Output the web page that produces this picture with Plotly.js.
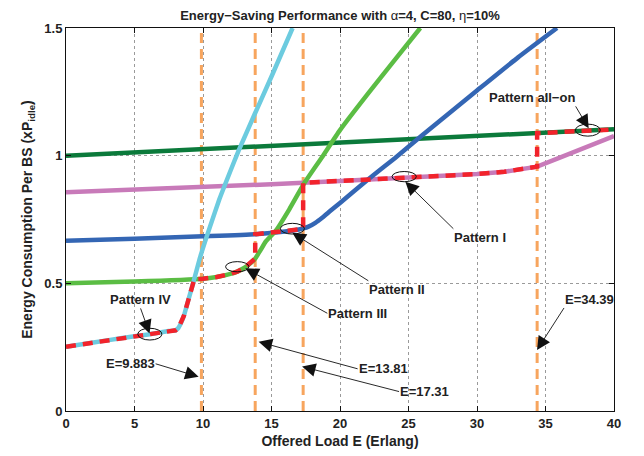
<!DOCTYPE html>
<html><head><meta charset="utf-8">
<script src="https://cdn.plot.ly/plotly-3.0.1.min.js"></script>
<style>html,body{margin:0;padding:0;background:#fff}#chart{width:644px;height:456px}</style>
</head><body><div id="chart"></div>
<script>
// ---- data ----
const xTickVals = [0, 5, 10, 15, 20, 25, 30, 35, 40];
const yTickVals = [0, 0.5, 1, 1.5];
const yTickText = ['0', '0.5', '1', '1.5'];

// Pattern all-on (dark green)
const allOnX = [0, 10, 20, 30, 40];
const allOnY = [1.0, 1.026, 1.052, 1.077, 1.103];

// Pattern I (pink)
const p1X = [0, 5, 10, 15, 20, 25, 30, 32, 33.5, 34.39, 36, 38, 40];
const p1Y = [0.857, 0.866, 0.876, 0.888, 0.901, 0.914, 0.928, 0.937, 0.947, 0.957, 0.991, 1.034, 1.077];

// Pattern II (blue)
const p2X = [0, 5, 10, 13.81, 16, 17, 17.31, 17.7, 18.2, 18.7, 19.3, 20, 22, 24, 26, 30, 33, 35.84];
const p2Y = [0.667, 0.675, 0.684, 0.692, 0.703, 0.711, 0.715, 0.722, 0.737, 0.757, 0.784, 0.815, 0.905, 0.99, 1.08, 1.255, 1.385, 1.5];

// Pattern III (green)
const p3X = [0, 5, 10, 11, 12, 12.5, 13, 13.5, 13.81, 14.2, 14.6, 15.3, 16.3, 17.4, 18.7, 20, 22, 24, 25.86];
const p3Y = [0.5, 0.507, 0.518, 0.525, 0.537, 0.546, 0.56, 0.58, 0.597, 0.63, 0.665, 0.705, 0.79, 0.893, 0.995, 1.1, 1.24, 1.375, 1.5];

// Pattern IV (cyan)
const p4X = [0, 2, 4, 6, 7.5, 8.0, 8.2, 8.4, 8.6, 9.0, 9.3, 9.8, 10.5, 11.2, 12, 12.6, 13.8, 15, 16.54];
const p4Y = [0.252, 0.268, 0.285, 0.300, 0.313, 0.316, 0.325, 0.345, 0.372, 0.448, 0.505, 0.604, 0.72, 0.83, 0.94, 1.02, 1.166, 1.31, 1.5];

// Optimal switching path (red dashed)
const optX = [0, 2, 4, 6, 7.5, 8.0, 8.2, 8.4, 8.6, 9.0, 9.3, 9.37, 10, 11, 12, 12.5, 13, 13.5, 13.81, 13.81, 16, 17, 17.31, 17.31, 20, 25, 30, 32, 33.5, 34.39, 34.39, 40];
const optY = [0.252, 0.268, 0.285, 0.300, 0.313, 0.316, 0.325, 0.345, 0.372, 0.448, 0.505, 0.517, 0.518, 0.525, 0.537, 0.546, 0.56, 0.58, 0.597, 0.692, 0.703, 0.711, 0.715, 0.894, 0.901, 0.914, 0.928, 0.937, 0.947, 0.957, 1.088, 1.103];

// Switching loads (orange dashed)
const switchE = [9.883, 13.81, 17.31, 34.39];
const switchLabels = ['E=9.883', 'E=13.81', 'E=17.31', 'E=34.39'];

// ---- styles ----
const FONT = 'Liberation Sans, Arial, Helvetica, sans-serif';
const TXT = '#222222';
const W = 4.5;

function curve(x, y, color, smooth) {
  const line = {color: color, width: W};
  if (smooth) { line.shape = 'spline'; line.smoothing = smooth; }
  return {x: x, y: y, type: 'scatter', mode: 'lines', hoverinfo: 'skip', line: line};
}

const traces = [
  curve(allOnX, allOnY, '#0b7a3b'),
  curve(p1X, p1Y, '#c87ab9'),
  curve(p2X, p2Y, '#3466b4', 0.5),
  curve(p3X, p3Y, '#5bbd44', 0.5),
  curve(p4X, p4Y, '#6ccbdf', 0.4),
  {x: optX, y: optY, type: 'scatter', mode: 'lines', hoverinfo: 'skip',
    line: {color: '#f2232b', width: W, dash: '10px,7px'}}
];

const shapes = switchE.map(e => ({
  type: 'line', xref: 'x', yref: 'paper', x0: e, x1: e, y0: 0, y1: 1, layer: 'below',
  line: {color: '#f7a55e', width: 3, dash: '10px,6px'}
}));

// ellipses around the pattern markers
const ellipses = [
  [37.18, 39.0, 1.0765, 1.1235],
  [23.8, 25.57, 0.898, 0.938],
  [15.65, 17.4, 0.693, 0.735],
  [11.65, 13.35, 0.545, 0.585],
  [5.24, 7.0, 0.278, 0.324]
];
ellipses.forEach(b => shapes.push({type: 'circle', xref: 'x', yref: 'y',
  x0: b[0], x1: b[1], y0: b[2], y1: b[3], line: {color: '#111', width: 1}}));

function note(text, x, y, ax, ay, xa, ya) {
  return {text: text, x: x, y: y, ax: ax, ay: ay, xref: 'x', yref: 'y',
    showarrow: true, arrowhead: 2, arrowsize: 3, arrowwidth: 0.9, arrowcolor: '#111',
    xanchor: xa, yanchor: ya, borderpad: 0,
    font: {family: FONT, size: 13, color: TXT, weight: 'bold'}};
}
const annotations = [
  note('Pattern all\u2212on', 38.15, 1.107, -13, -22, 'right', 'bottom'),
  note('Pattern I', 24.77, 0.898, 48, 47, 'left', 'top'),
  note('Pattern II', 16.52, 0.698, 76, 48, 'left', 'top'),
  note('Pattern III', 13.09, 0.559, 82, 45, 'left', 'middle'),
  note('Pattern IV', 6.1, 0.304, -9, -25, 'center', 'bottom'),
  note(switchLabels[0], 9.68, 0.134, -43, -13, 'right', 'middle'),
  note(switchLabels[1], 14.06, 0.271, 99, 27, 'left', 'middle'),
  note(switchLabels[2], 17.23, 0.174, 97, 25, 'left', 'middle'),
  note(switchLabels[3], 34.38, 0.239, 27, -42, 'left', 'bottom')
];

const axisCommon = {
  showline: true, linecolor: '#111', linewidth: 1, mirror: 'ticks',
  ticks: 'inside', ticklen: 5, tickwidth: 1, tickcolor: '#111',
  showgrid: true, gridcolor: '#9a9a9a', griddash: 'dot', gridwidth: 1,
  zeroline: false,
  tickfont: {family: FONT, size: 13, color: TXT, weight: 'bold'}
};

const layout = {
  width: 644, height: 456,
  margin: {l: 66, r: 30, t: 28, b: 45},
  paper_bgcolor: '#fff', plot_bgcolor: '#fff',
  showlegend: false,
  title: {text: '<b>Energy\u2212Saving Performance with </b>\u03b1<b>=4, C=80, </b>\u03b7<b>=10%</b>',
    font: {family: FONT, size: 13, color: TXT},
    xref: 'paper', x: 0.5, xanchor: 'center', yref: 'container', y: 0.967, yanchor: 'middle'},
  xaxis: Object.assign({}, axisCommon, {
    range: [0, 40], tickvals: xTickVals,
    title: {text: 'Offered Load E (Erlang)', font: {family: FONT, size: 14, color: TXT, weight: 'bold'}, standoff: 6}
  }),
  yaxis: Object.assign({}, axisCommon, {
    range: [0, 1.5], tickvals: yTickVals, ticktext: yTickText,
    title: {text: 'Energy Consumption Per BS (xP<sub>idle</sub>)', font: {family: FONT, size: 14, color: TXT, weight: 'bold'}, standoff: 8}
  }),
  shapes: shapes,
  annotations: annotations
};

Plotly.newPlot('chart', traces, layout, {displayModeBar: false, staticPlot: true});
</script></body></html>
